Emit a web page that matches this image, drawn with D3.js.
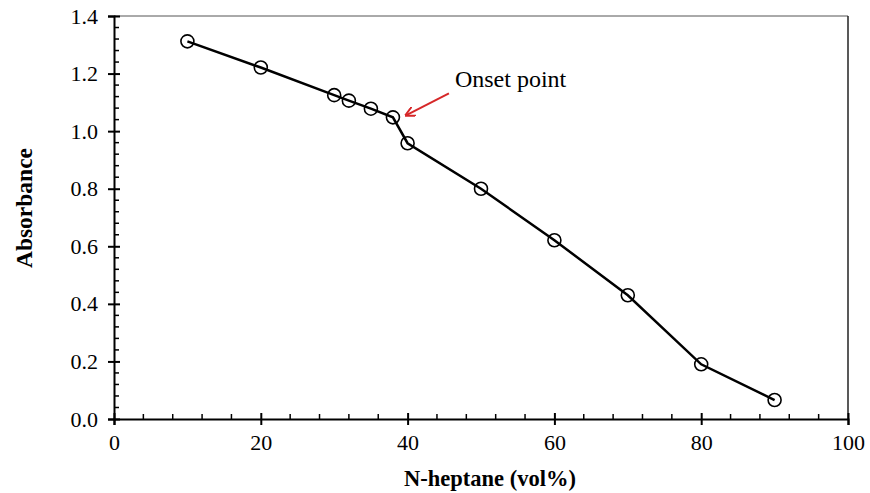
<!DOCTYPE html>
<html>
<head>
<meta charset="utf-8">
<script src="https://cdn.jsdelivr.net/npm/d3@7"></script>
<style>
  body { margin: 0; background: #fff; }
  text { font-family: "Liberation Serif", "Times New Roman", serif; }
</style>
</head>
<body>
<div id="chart"></div>
<script>
// data
const heptane = [10, 20, 30, 32, 35, 38, 40, 50, 60, 70, 80, 90];
const absorbance = [1.312, 1.221, 1.125, 1.106, 1.078, 1.048, 0.958, 0.80, 0.621, 0.43, 0.19, 0.066];
const xTicks = [0, 20, 40, 60, 80, 100];
const yTicks = [0, 0.2, 0.4, 0.6, 0.8, 1.0, 1.2, 1.4];
const onset = {x: 38, y: 1.048, label: 'Onset point'};

const width = 870, height = 493;
const margin = {top: 16, right: 22, bottom: 74, left: 114};

const svg = d3.select('#chart').append('svg')
    .attr('width', width)
    .attr('height', height);

const x = d3.scaleLinear().domain([0, 100]).range([margin.left, width - margin.right]);
const y = d3.scaleLinear().domain([0, 1.4]).range([height - margin.bottom, margin.top]);

svg.append('defs').append('marker')
    .attr('id', 'arrowhead')
    .attr('viewBox', '0 0 10 10')
    .attr('refX', 9).attr('refY', 5)
    .attr('markerWidth', 5).attr('markerHeight', 5)
    .attr('orient', 'auto')
  .append('path')
    .attr('d', 'M0,0 L10,5 L0,10')
    .attr('fill', 'none')
    .attr('stroke', '#d62728')
    .attr('stroke-width', 2);

// frame top/right
svg.append('line')
    .attr('x1', x(0)).attr('x2', x(100))
    .attr('y1', y(1.4)).attr('y2', y(1.4))
    .attr('stroke', '#555').attr('stroke-width', 1);
svg.append('line')
    .attr('x1', x(100)).attr('x2', x(100))
    .attr('y1', y(1.4)).attr('y2', y(0))
    .attr('stroke', '#222').attr('stroke-width', 1.5);

// minor ticks (inside)
const xMinor = d3.range(0, 101, 4).filter(v => v % 20 !== 0);
const yMinor = d3.range(0, 71, 1).map(v => v * 0.04).filter((v, i) => i % 5 !== 0 && v <= 1.4);

svg.append('g').selectAll('line')
    .data(xMinor)
  .join('line')
    .attr('x1', d => x(d)).attr('x2', d => x(d))
    .attr('y1', y(0)).attr('y2', y(0) - 5)
    .attr('stroke', '#000').attr('stroke-width', 1.5);

svg.append('g').selectAll('line')
    .data(yMinor)
  .join('line')
    .attr('x1', x(0)).attr('x2', x(0) + 5)
    .attr('y1', d => y(d)).attr('y2', d => y(d))
    .attr('stroke', '#000').attr('stroke-width', 1.5);

// major axes, ticks cross the axis line
const xAxis = svg.append('g')
    .attr('transform', `translate(0,${y(0)})`)
    .call(d3.axisBottom(x).tickValues(xTicks).tickSize(6).tickPadding(7).tickFormat(d3.format('d')));
xAxis.selectAll('.tick line').attr('y1', -6).attr('stroke-width', 2);

const yAxis = svg.append('g')
    .attr('transform', `translate(${x(0)},0)`)
    .call(d3.axisLeft(y).tickValues(yTicks).tickSize(6).tickPadding(10).tickFormat(d3.format('.1f')));
yAxis.selectAll('.tick line').attr('x1', 6).attr('stroke-width', 2);

[xAxis, yAxis].forEach(a => {
  a.attr('font-size', null).attr('font-family', null);
  a.select('.domain').attr('stroke-width', 2).attr('stroke', '#000');
  a.selectAll('.tick text')
      .style('font-family', '"Liberation Serif", serif')
      .style('font-size', '22px')
      .attr('fill', '#000');
});
xAxis.selectAll('.tick text').attr('dy', '0.8em');

// axis titles
svg.append('text')
    .attr('x', 490)
    .attr('y', 486)
    .attr('text-anchor', 'middle')
    .style('font-size', '22.5px')
    .attr('font-weight', 'bold')
    .text('N-heptane (vol%)');

svg.append('text')
    .attr('transform', 'translate(32,208) rotate(-90)')
    .attr('text-anchor', 'middle')
    .style('font-size', '23.5px')
    .attr('font-weight', 'bold')
    .text('Absorbance');

// series
const pts = heptane.map((h, i) => [h, absorbance[i]]);

svg.append('path')
    .datum(pts)
    .attr('fill', 'none')
    .attr('stroke', '#000')
    .attr('stroke-width', 2.5)
    .attr('d', d3.line().x(d => x(d[0])).y(d => y(d[1])));

svg.append('g').selectAll('circle')
    .data(pts)
  .join('circle')
    .attr('cx', d => x(d[0]))
    .attr('cy', d => y(d[1]))
    .attr('r', 6.5)
    .attr('fill', 'none')
    .attr('stroke', '#000')
    .attr('stroke-width', 1.6);

// annotation
svg.append('line')
    .attr('x1', x(onset.x) + 56).attr('y1', y(onset.y) - 24)
    .attr('x2', x(onset.x) + 13).attr('y2', y(onset.y) - 2)
    .attr('stroke', '#d62728')
    .attr('stroke-width', 2)
    .attr('marker-end', 'url(#arrowhead)');

svg.append('text')
    .attr('x', x(onset.x) + 62)
    .attr('y', y(onset.y) - 30)
    .style('font-size', '24px')
    .text(onset.label);
</script>
</body>
</html>
